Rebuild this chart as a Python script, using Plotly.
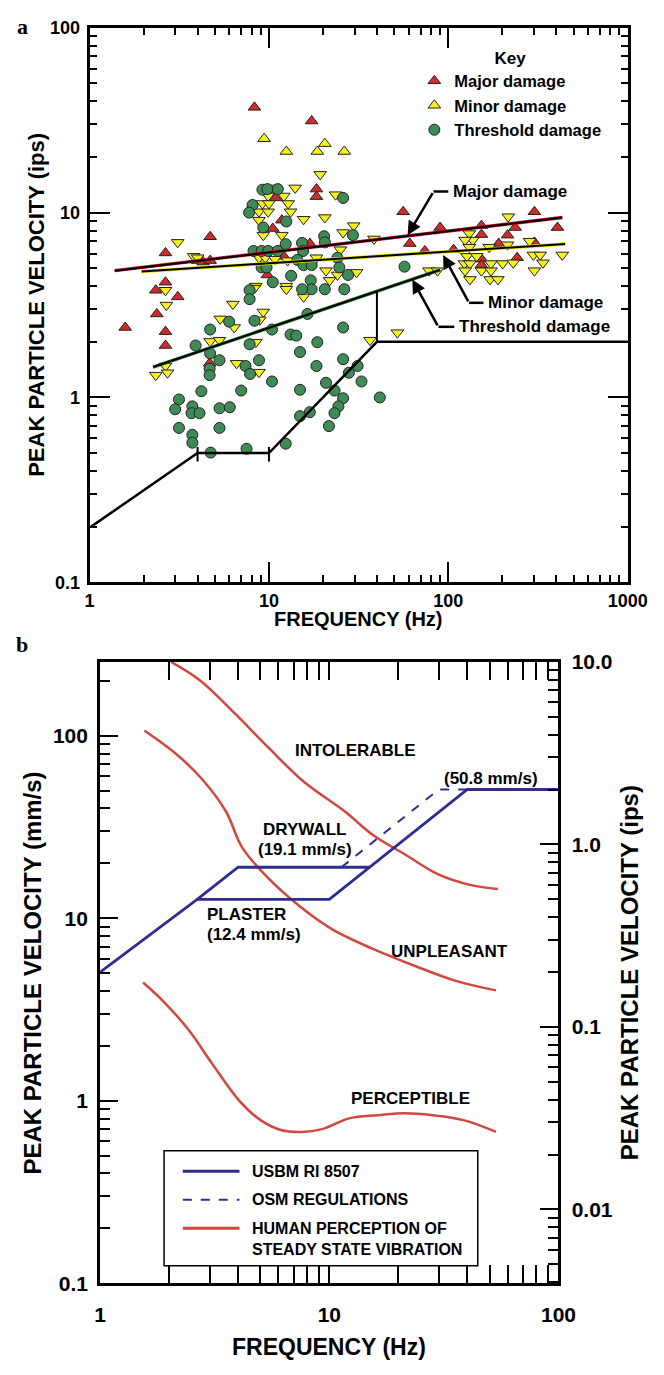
import numpy as np
import plotly.graph_objects as go

FONT = "Liberation Sans, Arial, Helvetica, sans-serif"
SERIF = "Liberation Serif, Times New Roman, serif"

# ---------------- Panel a : scatter data (frequency Hz, PPV ips) ----------------
major_f = [8.3, 17.3, 18.4, 18.4, 10.9, 11.8, 10.5, 16.9, 4.7, 2.65, 4.0, 4.3, 4.7, 12.1, 9.8, 2.65,
           56, 90, 153, 153, 61, 74, 107, 191, 214, 236, 302, 406, 302, 153, 153, 242,
           2.34, 3.1, 2.37, 1.58, 2.65, 2.65, 4.67]
major_v = [37.1, 31.3, 13.4, 12.2, 12.0, 9.1, 8.2, 6.8, 7.4, 6.05, 5.5, 5.4, 5.5, 5.8, 4.6, 4.2,
           10.1, 8.3, 8.5, 7.6, 6.8, 6.2, 6.3, 6.8, 7.55, 8.3, 10.1, 8.3, 6.9, 5.6, 5.2, 5.7,
           3.8, 3.5, 2.83, 2.39, 2.27, 1.91, 1.53]

minor_up_f = [9.4, 12.5, 20.5, 18.6, 26.3]
minor_up_v = [25.1, 21.4, 23.6, 21.4, 21.4]

minor_f = [19.3, 14.0, 10.5, 9.9, 12.1, 9.2, 10.0, 12.8, 8.8, 9.9, 13.2, 23.5, 15.6, 20.5, 8.8, 29.7,
           25.9, 11.8, 9.3, 38.5, 25.0, 3.1, 3.8, 4.0, 8.8, 9.55, 10.8, 12.7, 20.8, 24.1, 30.8, 21.8,
           18.4, 8.45, 12.5,
           216, 131, 137, 124, 131, 169, 214, 284, 127, 144, 123, 132, 173, 201, 230, 298, 325, 337,
           432, 302, 124, 132, 153, 173, 171, 189, 78, 87, 52,
           2.65, 2.68, 6.3, 5.35, 6.4, 9.3, 8.9, 4.7, 5.3, 8.45, 6.6, 2.65, 2.34, 2.72, 8.8, 8.3,
           12.5, 15.6, 36.6]
minor_v = [16.1, 13.6, 13.6, 12.3, 12.3, 11.2, 11.2, 11.2, 10.1, 10.1, 10.1, 12.5, 9.2, 9.4, 9.1, 8.5,
           7.8, 7.55, 7.55, 7.2, 6.3, 6.9, 5.8, 5.7, 5.7, 5.7, 5.6, 5.5, 4.85, 4.6, 4.75, 4.3,
           5.7, 4.0, 4.0,
           9.5, 7.7, 7.1, 7.1, 6.5, 6.5, 6.7, 7.0, 5.8, 5.8, 5.3, 5.3, 5.3, 5.3, 5.35, 5.9, 5.9, 5.35,
           5.9, 4.85, 4.85, 4.35, 4.85, 4.85, 4.35, 4.35, 4.85, 4.85, 2.24,
           3.8, 3.16, 3.2, 2.66, 2.39, 2.9, 2.63, 2.01, 2.04, 1.99, 1.53, 1.48, 1.32, 1.36, 1.37, 3.9,
           3.85, 3.5, 2.04]

thresh_f = [9.2, 9.8, 11.2, 8.1, 7.75, 25.9, 9.3, 12.5, 20.3, 20.5, 29.4, 12.4, 15.3, 8.2, 9.1, 9.9,
            11.2, 15.5, 14.4, 15.6, 17.3, 24.1, 24.7, 9.1, 9.7, 13.3, 10.5, 17.1, 27.6, 57,
            17.3, 15.3, 20.5, 26.3, 7.8, 7.8, 6.0, 8.3, 4.7, 10.4, 13.2, 14.2, 16.4, 25.9, 3.9, 7.8,
            18.6, 4.7, 5.3, 8.8, 14.9, 7.4, 4.67, 4.67, 7.85, 25.9, 31.2, 18.4, 27.9, 10.4, 32.8, 20.8,
            4.2, 7.0, 14.9, 23.2, 25.9, 3.15, 3.0, 3.74, 3.7, 4.1, 5.3, 6.05, 24.4, 23.2, 16.9, 14.9,
            41.5, 21.6, 3.15, 5.3, 3.74, 3.74, 12.4, 4.73, 7.5]
thresh_v = [13.3, 13.4, 13.4, 11.0, 10.0, 12.0, 8.3, 8.95, 7.45, 6.9, 7.55, 6.75, 6.85, 6.2, 6.2, 6.2,
            6.2, 6.2, 5.55, 5.2, 5.2, 5.7, 5.05, 5.05, 5.05, 4.55, 4.2, 4.3, 4.6, 5.1,
            3.85, 3.85, 3.85, 3.85, 3.8, 3.4, 2.57, 2.6, 2.33, 2.33, 2.19, 2.16, 2.83, 2.39, 1.91, 1.94,
            1.99, 1.73, 1.59, 1.59, 1.76, 1.48, 1.43, 1.32, 1.34, 1.61, 1.48, 1.48, 1.36, 1.22, 1.22, 1.2,
            1.08, 1.09, 1.1, 1.09, 0.99, 0.975, 0.863, 0.895, 0.822, 0.822, 0.874, 0.885, 0.895, 0.822, 0.832, 0.792,
            1.0, 0.70, 0.684, 0.684, 0.628, 0.569, 0.562, 0.503, 0.528]

# fitted damage lines (end points)
major_line_f, major_line_v = [1.38, 432], [4.85, 9.4]
minor_line_f, minor_line_v = [1.95, 448], [4.8, 6.76]
thresh_line_f, thresh_line_v = [2.26, 90], [1.46, 4.9]

# limit polyline
limit_f = [1.02, 4, 10, 40, 1000]
limit_v = [0.2, 0.5, 0.5, 2.0, 2.0]
limit_tick_f = [4, 10]
limit_tick_v = [0.54, 0.45]
limit_riser_f = 40
limit_riser_v = [2.0, 3.75]

# leader callouts: (label, text f, text v, bend f, bend v, head f, head v)
callouts = [
    ("Major damage", 100, 13.0, 82.7, 13.0, 59.3, 7.55),
    ("Minor damage", 157, 3.25, 130.5, 3.25, 93.5, 5.9),
    ("Threshold damage", 108, 2.41, 88, 2.41, 63, 4.35),
]

# ---------------- Panel b data (frequency Hz, PPV mm/s) ----------------
usbm_plaster_f = [1, 2.65, 10, 40, 100]
usbm_plaster_v = [5.08, 12.7, 12.7, 50.8, 50.8]
usbm_drywall_f = [2.65, 4.0, 15.0]
usbm_drywall_v = [12.7, 19.05, 19.05]
osm_f = [11.3, 30, 40]
osm_v = [19.05, 50.8, 50.8]

intolerable_f = [2.04, 2.73, 3.86, 5.36, 7.74, 11.7, 15.5, 21.5, 29.9, 41.5, 54.4]
intolerable_v = [254, 201, 133, 87.5, 56, 38.5, 28.6, 22.3, 17.4, 15.2, 14.5]
unpleasant_f = [1.56, 2.16, 2.78, 3.54, 4.17, 5.36, 7.45, 10.3, 15.5, 23.5, 35.3, 53.4]
unpleasant_v = [107, 79, 58, 38.5, 24.4, 16.8, 11.6, 8.7, 6.8, 5.5, 4.56, 4.03]
perceptible_f = [1.54, 1.90, 2.43, 3.09, 4.05, 5.01, 6.14, 7.6, 9.3, 12.3, 16.3, 21.3, 28.2, 38.5, 53.4]
perceptible_v = [4.45, 3.48, 2.45, 1.59, 1.0, 0.784, 0.693, 0.676, 0.70, 0.804, 0.834, 0.855, 0.834, 0.784, 0.676]

# labels in panel b: (text, f, v, anchor)
b_labels = [
    ("INTOLERABLE", 13.0, 83.2, "center"),
    ("(50.8 mm/s)", 50.9, 58.1, "center"),
    ("DRYWALL", 7.82, 30.5, "center"),
    ("(19.1 mm/s)", 7.82, 23.8, "center"),
    ("PLASTER", 2.86, 10.5, "left"),
    ("(12.4 mm/s)", 2.86, 8.18, "left"),
    ("UNPLEASANT", 33.3, 6.55, "center"),
    ("PERCEPTIBLE", 22.6, 1.03, "center"),
]

MM_PER_IN = 25.4

RED = '#d02a2a'
YEL = '#f5f01e'
GRN = '#3f8b58'
EDGE = '#222222'
BLUE = '#2f2c91'
HRED = '#d2473f'

fig = go.Figure()

mk = dict(size=11, line=dict(color=EDGE, width=1))
fig.add_trace(go.Scatter(x=major_f, y=major_v, mode='markers', name='Major damage', legendrank=1,
                         marker=dict(symbol='triangle-up', color=RED, **mk)))
fig.add_trace(go.Scatter(x=minor_f, y=minor_v, mode='markers', name='Minor damage', showlegend=False,
                         marker=dict(symbol='triangle-down', color=YEL, **mk)))
fig.add_trace(go.Scatter(x=minor_up_f, y=minor_up_v, mode='markers', name='Minor damage', legendrank=2,
                         marker=dict(symbol='triangle-up', color=YEL, **mk)))
fig.add_trace(go.Scatter(x=thresh_f, y=thresh_v, mode='markers', name='Threshold damage', legendrank=3,
                         marker=dict(symbol='circle', color=GRN, **mk)))

for lf, lv, col in [(major_line_f, major_line_v, '#c8102e'), (minor_line_f, minor_line_v, '#e8e000'),
                    (thresh_line_f, thresh_line_v, '#2e7d32')]:
    fig.add_trace(go.Scatter(x=lf, y=lv, mode='lines', showlegend=False, line=dict(color=col, width=3.4)))
    fig.add_trace(go.Scatter(x=lf, y=lv, mode='lines', showlegend=False, line=dict(color='black', width=2)))

fig.add_trace(go.Scatter(x=limit_f, y=limit_v, mode='lines', showlegend=False,
                         line=dict(color='black', width=2.5)))
for tf in limit_tick_f:
    fig.add_trace(go.Scatter(x=[tf, tf], y=limit_tick_v, mode='lines', showlegend=False,
                             line=dict(color='black', width=2)))
fig.add_trace(go.Scatter(x=[limit_riser_f, limit_riser_f], y=limit_riser_v, mode='lines', showlegend=False,
                         line=dict(color='black', width=2)))

annotations = []
for lab, tf, tv, bf, bv, hf, hv in callouts:
    fig.add_trace(go.Scatter(x=[bf, tf], y=[bv, bv], mode='lines', showlegend=False,
                             line=dict(color='black', width=2.5)))
    annotations.append(dict(x=np.log10(hf), y=np.log10(hv), ax=np.log10(bf), ay=np.log10(bv),
                            axref='x', ayref='y', xref='x', yref='y', text='', showarrow=True,
                            arrowhead=2, arrowsize=1.1, arrowwidth=2.5, arrowcolor='black'))
    annotations.append(dict(x=np.log10(tf * 1.03), y=np.log10(tv), xref='x', yref='y', text=lab,
                            showarrow=False, xanchor='left', yanchor='middle',
                            font=dict(family=FONT, size=17, color='black', weight='bold')))

# ---------------- Panel b traces ----------------
fig.add_trace(go.Scatter(x=intolerable_f, y=intolerable_v, mode='lines', line_shape='spline', showlegend=False,
                         line=dict(color=HRED, width=2.5), xaxis='x2', yaxis='y2'))
fig.add_trace(go.Scatter(x=unpleasant_f, y=unpleasant_v, mode='lines', line_shape='spline', showlegend=False,
                         line=dict(color=HRED, width=2.5), xaxis='x2', yaxis='y2'))
fig.add_trace(go.Scatter(x=perceptible_f, y=perceptible_v, mode='lines', line_shape='spline', showlegend=False,
                         line=dict(color=HRED, width=2.5), xaxis='x2', yaxis='y2'))
fig.add_trace(go.Scatter(x=osm_f, y=osm_v, mode='lines', showlegend=False,
                         line=dict(color=BLUE, width=2, dash='dash'), xaxis='x2', yaxis='y2'))
fig.add_trace(go.Scatter(x=usbm_plaster_f, y=usbm_plaster_v, mode='lines', showlegend=False,
                         line=dict(color=BLUE, width=2.8), xaxis='x2', yaxis='y2'))
fig.add_trace(go.Scatter(x=usbm_drywall_f, y=usbm_drywall_v, mode='lines', showlegend=False,
                         line=dict(color=BLUE, width=2.8), xaxis='x2', yaxis='y2'))
# right (ips) axis companion
fig.add_trace(go.Scatter(x=[usbm_plaster_f[-1]], y=[usbm_plaster_v[-1] / MM_PER_IN], mode='markers',
                         marker=dict(opacity=0), showlegend=False, hoverinfo='skip', xaxis='x2', yaxis='y3'))

for txt, f, v, anc in b_labels:
    annotations.append(dict(x=np.log10(f), y=np.log10(v), xref='x2', yref='y2', text=txt, showarrow=False,
                            xanchor=anc, yanchor='middle',
                            font=dict(family=FONT, size=17, color='black', weight='bold')))

# ---------------- axes ----------------
W, H = 664, 1375


def dom_x(a, b):
    return [a / W, b / W]


def dom_y(top, bottom):
    return [1 - bottom / H, 1 - top / H]


def minor_vals(lo, hi):
    out = []
    for e in range(lo, hi):
        for d in range(2, 10):
            out.append(d * 10.0 ** e)
    return out


def log_axis(size, major_len, minor_len, rng, tv, tt, mvals, **kw):
    d = dict(type='log', range=rng, showline=True, linecolor='black', linewidth=3,
             ticks='inside', ticklen=major_len, tickwidth=2, tickcolor='black',
             tickmode='array', tickvals=tv, ticktext=tt, showgrid=False, zeroline=False,
             tickfont=dict(family=FONT, size=size, color='black', weight='bold'),
             minor=dict(ticks='inside', ticklen=minor_len, tickwidth=2, tickcolor='black',
                        tickmode='array', tickvals=mvals, showgrid=False))
    d.update(kw)
    return d


ips_lo = np.log10(0.1 / MM_PER_IN)
layout_axes = dict(
    xaxis=log_axis(18, 20, 7, [0, 3], [1, 10, 100, 1000], ['1', '10', '100', '1000'], minor_vals(0, 3),
                   domain=dom_x(87, 647), anchor='y', mirror='allticks'),
    yaxis=log_axis(18, 20, 7, [-1, 2], [0.1, 1, 10, 100], ['0.1', '1', '10', '100'], minor_vals(-1, 2),
                   domain=dom_y(16, 580), anchor='x', mirror='allticks', ticklabelstandoff=3),
    xaxis2=log_axis(21, 18, 10, [0, 2], [1, 10, 100], ['1', '10', '100'], minor_vals(0, 2),
                    domain=dom_x(98, 575), anchor='y2', mirror='allticks', ticklabelstandoff=10),
    yaxis2=log_axis(21, 18, 10, [-1, np.log10(10 * MM_PER_IN)], [0.1, 1, 10, 100], ['0.1', '1', '10', '100'],
                    minor_vals(-1, 3), domain=dom_y(661, 1293), anchor='x2', ticklabelstandoff=5),
    yaxis3=log_axis(21, 18, 10, [ips_lo, 1], [0.01, 0.1, 1, 10], ['0.01', '0.1', '1.0', '10.0'],
                    minor_vals(-3, 1), overlaying='y2', side='right', anchor='x2', ticklabelstandoff=6),
)


def ptext(txt, x, y, size, angle=0, family=FONT, xanchor='center', yanchor='middle', **kw):
    return dict(x=x / W, y=1 - y / H, xref='paper', yref='paper', text=txt, showarrow=False,
                textangle=angle, xanchor=xanchor, yanchor=yanchor,
                font=dict(family=family, size=size, color='black', weight='bold'), **kw)


annotations += [
    ptext('a', 17, 15, 22, family=SERIF),
    ptext('b', 17, 643, 22, family=SERIF),
    ptext('PEAK PARTICLE VELOCITY (ips)', 31, 298, 22, angle=-90),
    ptext('FREQUENCY (Hz)', 367, 617, 20),
    ptext('PEAK PARTICLE VELOCITY (mm/s)', 28, 977, 24, angle=-90),
    ptext('PEAK PARTICLE VELOCITY (ips)', 649, 977, 24, angle=-90),
    ptext('FREQUENCY (Hz)', 336, 1358, 23),
]

# panel b legend box (manual)
shapes = [dict(type='rect', xref='paper', yref='paper', x0=164.5 / W, x1=491 / W, y0=1 - 1275 / H,
               y1=1 - 1158 / H, line=dict(color='black', width=1.5), fillcolor='white', layer='above')]
leg_items = [(1179, BLUE, 'solid', 3, 'USBM RI 8507'), (1208, BLUE, 'dash', 2, 'OSM REGULATIONS'),
             (1237, HRED, 'solid', 3, None)]
for yy, col, dash, wdt, txt in leg_items:
    shapes.append(dict(type='line', xref='paper', yref='paper', x0=184 / W, x1=243 / W, y0=1 - yy / H,
                       y1=1 - yy / H, line=dict(color=col, width=wdt, dash=dash), layer='above'))
    if txt:
        annotations.append(ptext(txt, 254, yy, 16, xanchor='left'))
annotations.append(ptext('HUMAN PERCEPTION OF<br>STEADY STATE VIBRATION', 254, 1248, 16, xanchor='left',
                         align='left'))

fig.update_layout(
    width=W, height=H, margin=dict(l=0, r=0, t=0, b=0),
    paper_bgcolor='white', plot_bgcolor='white',
    showlegend=True,
    legend=dict(x=425 / W, y=1 - 30 / H, xanchor='left', yanchor='top', bgcolor='rgba(0,0,0,0)',
                font=dict(family=FONT, size=16.5, color='black', weight='bold'),
                title=dict(text='Key', side='top center', font=dict(family=FONT, size=17, weight='bold')),
                itemwidth=30, tracegroupgap=0),
    annotations=annotations, shapes=shapes,
    **layout_axes,
)

fig.write_html("out.html")
